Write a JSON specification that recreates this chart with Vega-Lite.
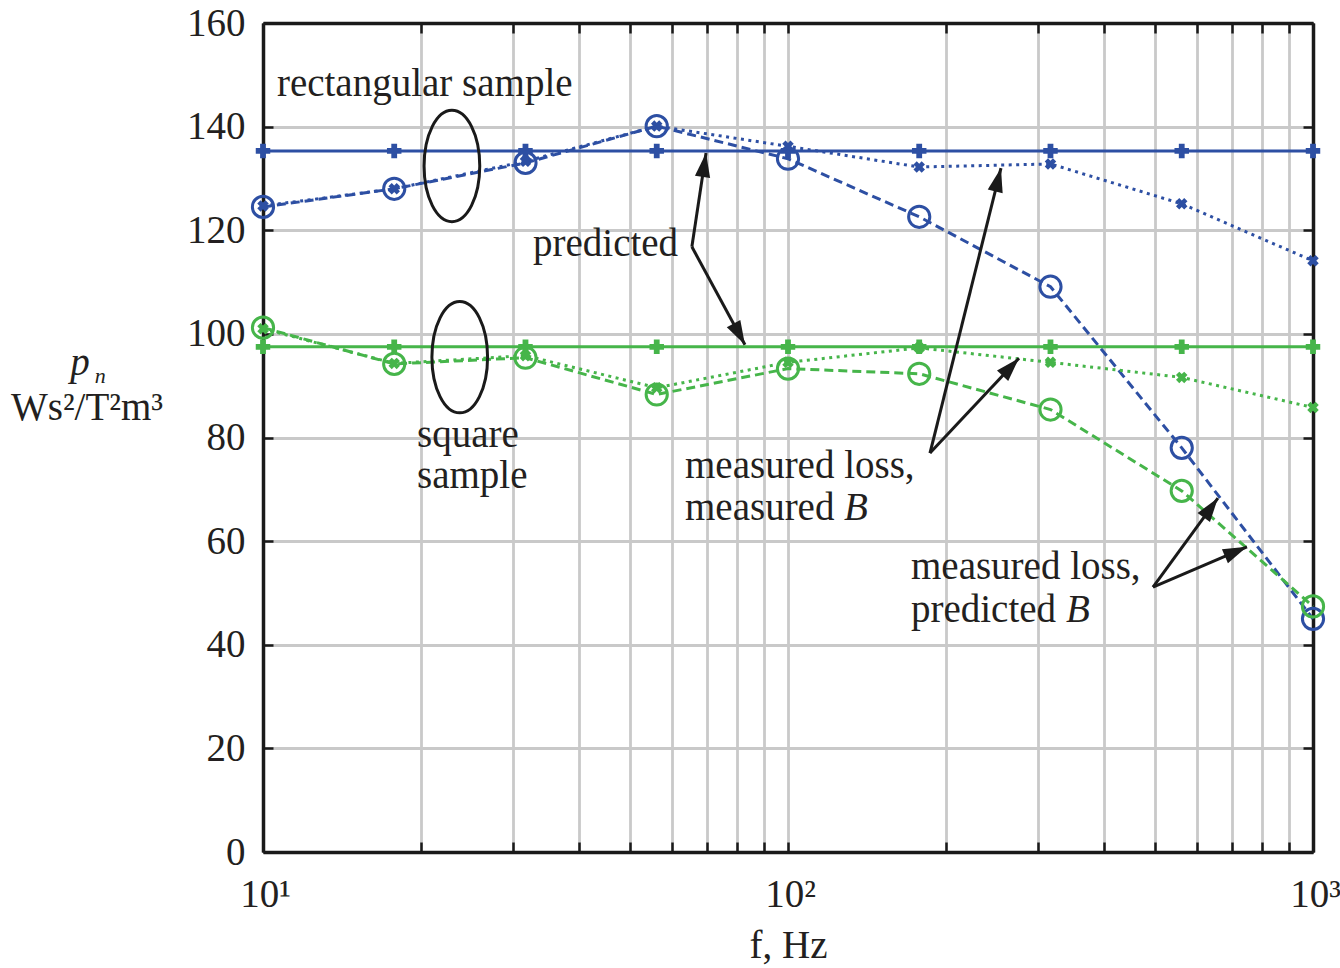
{
  "$schema": "https://vega.github.io/schema/vega-lite/v6.json",
  "width": 1050,
  "height": 829,
  "autosize": {"type": "none"},
  "padding": {"left": 263, "top": 23, "right": 27, "bottom": 116},
  "background": "white",
  "config": {
    "view": {"stroke": null},
    "font": "Liberation Serif",
    "axis": {
      "labelFont": "Liberation Serif",
      "labelFontSize": 39,
      "labelColor": "#231f20",
      "titleFont": "Liberation Serif",
      "titleFontSize": 39,
      "titleFontWeight": "normal",
      "titleColor": "#231f20",
      "domainColor": "#1a1a1a",
      "domainWidth": 3.5,
      "tickColor": "#1a1a1a",
      "tickWidth": 2.5,
      "gridColor": "#c9c9c9",
      "gridWidth": 2.8,
      "gridOpacity": 1
    }
  },
  "datasets": {
    "series": [
      {"f": 10, "v": 135.3, "sample": "rect", "series": "pred"},
      {"f": 17.78, "v": 135.3, "sample": "rect", "series": "pred"},
      {"f": 31.62, "v": 135.3, "sample": "rect", "series": "pred"},
      {"f": 56.23, "v": 135.3, "sample": "rect", "series": "pred"},
      {"f": 100, "v": 135.3, "sample": "rect", "series": "pred"},
      {"f": 177.8, "v": 135.3, "sample": "rect", "series": "pred"},
      {"f": 316.2, "v": 135.3, "sample": "rect", "series": "pred"},
      {"f": 562.3, "v": 135.3, "sample": "rect", "series": "pred"},
      {"f": 1000, "v": 135.3, "sample": "rect", "series": "pred"},
      {"f": 10, "v": 124.5, "sample": "rect", "series": "mp"},
      {"f": 17.78, "v": 128.0, "sample": "rect", "series": "mp"},
      {"f": 31.62, "v": 133.0, "sample": "rect", "series": "mp"},
      {"f": 56.23, "v": 140.1, "sample": "rect", "series": "mp"},
      {"f": 100, "v": 133.8, "sample": "rect", "series": "mp"},
      {"f": 177.8, "v": 122.6, "sample": "rect", "series": "mp"},
      {"f": 316.2, "v": 109.1, "sample": "rect", "series": "mp"},
      {"f": 562.3, "v": 78.0, "sample": "rect", "series": "mp"},
      {"f": 1000, "v": 45.0, "sample": "rect", "series": "mp"},
      {"f": 10, "v": 124.7, "sample": "rect", "series": "mm"},
      {"f": 17.78, "v": 128.0, "sample": "rect", "series": "mm"},
      {"f": 31.62, "v": 133.3, "sample": "rect", "series": "mm"},
      {"f": 56.23, "v": 140.1, "sample": "rect", "series": "mm"},
      {"f": 100, "v": 136.2, "sample": "rect", "series": "mm"},
      {"f": 177.8, "v": 132.2, "sample": "rect", "series": "mm"},
      {"f": 316.2, "v": 132.8, "sample": "rect", "series": "mm"},
      {"f": 562.3, "v": 125.1, "sample": "rect", "series": "mm"},
      {"f": 1000, "v": 114.1, "sample": "rect", "series": "mm"},
      {"f": 10, "v": 97.5, "sample": "square", "series": "pred"},
      {"f": 17.78, "v": 97.5, "sample": "square", "series": "pred"},
      {"f": 31.62, "v": 97.5, "sample": "square", "series": "pred"},
      {"f": 56.23, "v": 97.5, "sample": "square", "series": "pred"},
      {"f": 100, "v": 97.5, "sample": "square", "series": "pred"},
      {"f": 177.8, "v": 97.5, "sample": "square", "series": "pred"},
      {"f": 316.2, "v": 97.5, "sample": "square", "series": "pred"},
      {"f": 562.3, "v": 97.5, "sample": "square", "series": "pred"},
      {"f": 1000, "v": 97.5, "sample": "square", "series": "pred"},
      {"f": 10, "v": 101.2, "sample": "square", "series": "mp"},
      {"f": 17.78, "v": 94.2, "sample": "square", "series": "mp"},
      {"f": 31.62, "v": 95.4, "sample": "square", "series": "mp"},
      {"f": 56.23, "v": 88.3, "sample": "square", "series": "mp"},
      {"f": 100, "v": 93.3, "sample": "square", "series": "mp"},
      {"f": 177.8, "v": 92.3, "sample": "square", "series": "mp"},
      {"f": 316.2, "v": 85.4, "sample": "square", "series": "mp"},
      {"f": 562.3, "v": 69.7, "sample": "square", "series": "mp"},
      {"f": 1000, "v": 47.4, "sample": "square", "series": "mp"},
      {"f": 10, "v": 101.0, "sample": "square", "series": "mm"},
      {"f": 17.78, "v": 94.3, "sample": "square", "series": "mm"},
      {"f": 31.62, "v": 95.8, "sample": "square", "series": "mm"},
      {"f": 56.23, "v": 89.6, "sample": "square", "series": "mm"},
      {"f": 100, "v": 94.5, "sample": "square", "series": "mm"},
      {"f": 177.8, "v": 97.3, "sample": "square", "series": "mm"},
      {"f": 316.2, "v": 94.5, "sample": "square", "series": "mm"},
      {"f": 562.3, "v": 91.6, "sample": "square", "series": "mm"},
      {"f": 1000, "v": 85.8, "sample": "square", "series": "mm"}
    ],
    "arrows": [
      {"f1": 65.6, "v1": 116.8, "f2": 69.8, "v2": 134.9, "ang": 8.4},
      {"f1": 65.6, "v1": 116.8, "f2": 82.8, "v2": 97.9, "ang": 151.6},
      {"f1": 186.4, "v1": 77.0, "f2": 254.5, "v2": 132.0, "ang": 14.0},
      {"f1": 186.4, "v1": 77.0, "f2": 275.4, "v2": 95.3, "ang": 43.1},
      {"f1": 495.7, "v1": 51.1, "f2": 659.0, "v2": 68.3, "ang": 36.1},
      {"f1": 495.7, "v1": 51.1, "f2": 748.6, "v2": 58.9, "ang": 66.9}
    ],
    "groups": [
      {"f": 22.9, "v": 132.4},
      {"f": 23.7, "v": 95.5}
    ],
    "labels": [
      {"f": 10.63, "v": 145.9, "text": "rectangular sample"},
      {"f": 32.68, "v": 115.0, "text": "predicted"},
      {"f": 19.65, "v": 78.2, "text": "square"},
      {"f": 19.65, "v": 70.3, "text": "sample"},
      {"f": 63.65, "v": 72.2, "text": "measured loss,"},
      {"f": 63.65, "v": 64.1, "text": "measured"},
      {"f": 171.5, "v": 52.7, "text": "measured loss,"},
      {"f": 171.5, "v": 44.4, "text": "predicted"}
    ],
    "italics": [
      {"f": 127.8, "v": 64.1, "text": "B"},
      {"f": 338.4, "v": 44.4, "text": "B"}
    ]
  },
  "layer": [
    {
      "data": {"name": "series"},
      "mark": {"type": "line", "strokeWidth": 3},
      "encoding": {
        "x": {
          "field": "f", "type": "quantitative",
          "scale": {"type": "log", "domain": [10, 1000], "nice": false},
          "axis": {
            "orient": "bottom",
            "values": [10, 20, 30, 40, 50, 60, 70, 80, 90, 100, 200, 300, 400, 500, 600, 700, 800, 900, 1000],
            "labelExpr": "datum.value == 10 ? '10¹' : datum.value == 100 ? '10²' : datum.value == 1000 ? '10³' : ''",
            "labelFlush": false,
            "labelOverlap": false,
            "labelOffset": 2,
            "grid": true,
            "tickSize": -10,
            "labelPadding": 33,
            "title": "f, Hz",
            "titlePadding": 12
          }
        },
        "y": {
          "field": "v", "type": "quantitative",
          "scale": {"domain": [0, 160], "nice": false},
          "axis": {
            "orient": "left",
            "values": [0, 20, 40, 60, 80, 100, 120, 140, 160],
            "grid": true,
            "tickSize": -10,
            "labelPadding": 28,
            "title": null
          }
        },
        "color": {"field": "sample", "type": "nominal", "scale": {"domain": ["rect", "square"], "range": ["#2d4fa3", "#46b54a"]}, "legend": null},
        "strokeDash": {"field": "series", "type": "nominal", "scale": {"domain": ["pred", "mm", "mp"], "range": [[1, 0], [3, 4.5], [9, 5]]}, "legend": null},
        "detail": {"field": "series"}
      }
    },
    {
      "data": {"name": "series"},
      "mark": {"type": "rule", "opacity": 0},
      "encoding": {
        "x": {
          "field": "f", "type": "quantitative",
          "axis": {
            "orient": "top",
            "values": [10, 20, 30, 40, 50, 60, 70, 80, 90, 100, 200, 300, 400, 500, 600, 700, 800, 900, 1000],
            "labels": false, "grid": false, "tickSize": -10, "title": null
          }
        },
        "y": {
          "field": "v", "type": "quantitative",
          "axis": {
            "orient": "right",
            "values": [0, 20, 40, 60, 80, 100, 120, 140, 160],
            "labels": false, "grid": false, "tickSize": -10, "title": null
          }
        }
      }
    },
    {
      "data": {"name": "series"},
      "transform": [{"filter": "datum.series == 'pred'"}],
      "mark": {"type": "point", "shape": "cross", "filled": true, "size": 210, "opacity": 1},
      "encoding": {
        "x": {"field": "f", "type": "quantitative", "axis": null},
        "y": {"field": "v", "type": "quantitative", "axis": null},
        "color": {"field": "sample", "type": "nominal", "legend": null}
      }
    },
    {
      "data": {"name": "series"},
      "transform": [{"filter": "datum.series == 'mm'"}],
      "mark": {"type": "point", "shape": "cross", "angle": 45, "filled": true, "size": 135, "opacity": 1},
      "encoding": {
        "x": {"field": "f", "type": "quantitative", "axis": null},
        "y": {"field": "v", "type": "quantitative", "axis": null},
        "color": {"field": "sample", "type": "nominal", "legend": null}
      }
    },
    {
      "data": {"name": "series"},
      "transform": [{"filter": "datum.series == 'mp'"}],
      "mark": {"type": "point", "shape": "circle", "filled": false, "size": 450, "strokeWidth": 3, "opacity": 1},
      "encoding": {
        "x": {"field": "f", "type": "quantitative", "axis": null},
        "y": {"field": "v", "type": "quantitative", "axis": null},
        "color": {"field": "sample", "type": "nominal", "legend": null}
      }
    },
    {
      "data": {"name": "groups"},
      "mark": {"type": "point", "shape": "M0,-1 A0.5,1 0 1,1 0,1 A0.5,1 0 1,1 0,-1 Z", "filled": false, "size": 12400, "stroke": "#1a1a1a", "strokeWidth": 3, "opacity": 1},
      "encoding": {
        "x": {"field": "f", "type": "quantitative", "axis": null},
        "y": {"field": "v", "type": "quantitative", "axis": null}
      }
    },
    {
      "data": {"name": "arrows"},
      "mark": {"type": "rule", "color": "#1a1a1a", "strokeWidth": 3},
      "encoding": {
        "x": {"field": "f1", "type": "quantitative", "axis": null},
        "y": {"field": "v1", "type": "quantitative", "axis": null},
        "x2": {"field": "f2"},
        "y2": {"field": "v2"}
      }
    },
    {
      "data": {"name": "arrows"},
      "mark": {"type": "point", "shape": "M0,0 L0.32,1 L-0.32,1 Z", "filled": true, "size": 2300, "color": "#1a1a1a", "opacity": 1, "strokeWidth": 0},
      "encoding": {
        "x": {"field": "f2", "type": "quantitative", "axis": null},
        "y": {"field": "v2", "type": "quantitative", "axis": null},
        "angle": {"field": "ang", "type": "quantitative", "scale": null}
      }
    },
    {
      "data": {"name": "labels"},
      "mark": {"type": "text", "align": "left", "baseline": "alphabetic", "font": "Liberation Serif", "fontSize": 39, "color": "#231f20"},
      "encoding": {
        "x": {"field": "f", "type": "quantitative", "axis": null},
        "y": {"field": "v", "type": "quantitative", "axis": null},
        "text": {"field": "text"}
      }
    },
    {
      "data": {"name": "italics"},
      "mark": {"type": "text", "align": "left", "baseline": "alphabetic", "font": "Liberation Serif", "fontSize": 39, "fontStyle": "italic", "color": "#231f20"},
      "encoding": {
        "x": {"field": "f", "type": "quantitative", "axis": null},
        "y": {"field": "v", "type": "quantitative", "axis": null},
        "text": {"field": "text"}
      }
    },
    {
      "data": {"values": [{"f": 4.62, "v": 83.4, "text": "Ws²/T²m³"}]},
      "mark": {"type": "text", "align": "center", "baseline": "alphabetic", "font": "Liberation Serif", "fontSize": 39, "color": "#231f20"},
      "encoding": {
        "x": {"field": "f", "type": "quantitative", "axis": null},
        "y": {"field": "v", "type": "quantitative", "axis": null},
        "text": {"field": "text"}
      }
    },
    {
      "data": {"values": [{"f": 4.48, "v": 92.1, "text": "p"}]},
      "mark": {"type": "text", "align": "center", "baseline": "alphabetic", "font": "Liberation Serif", "fontSize": 39, "fontStyle": "italic", "color": "#231f20"},
      "encoding": {
        "x": {"field": "f", "type": "quantitative", "axis": null},
        "y": {"field": "v", "type": "quantitative", "axis": null},
        "text": {"field": "text"}
      }
    },
    {
      "data": {"values": [{"f": 4.9, "v": 90.5, "text": "n"}]},
      "mark": {"type": "text", "align": "center", "baseline": "alphabetic", "font": "Liberation Serif", "fontSize": 22, "fontStyle": "italic", "color": "#231f20"},
      "encoding": {
        "x": {"field": "f", "type": "quantitative", "axis": null},
        "y": {"field": "v", "type": "quantitative", "axis": null},
        "text": {"field": "text"}
      }
    }
  ],
  "resolve": {"axis": {"x": "independent", "y": "independent"}}
}
